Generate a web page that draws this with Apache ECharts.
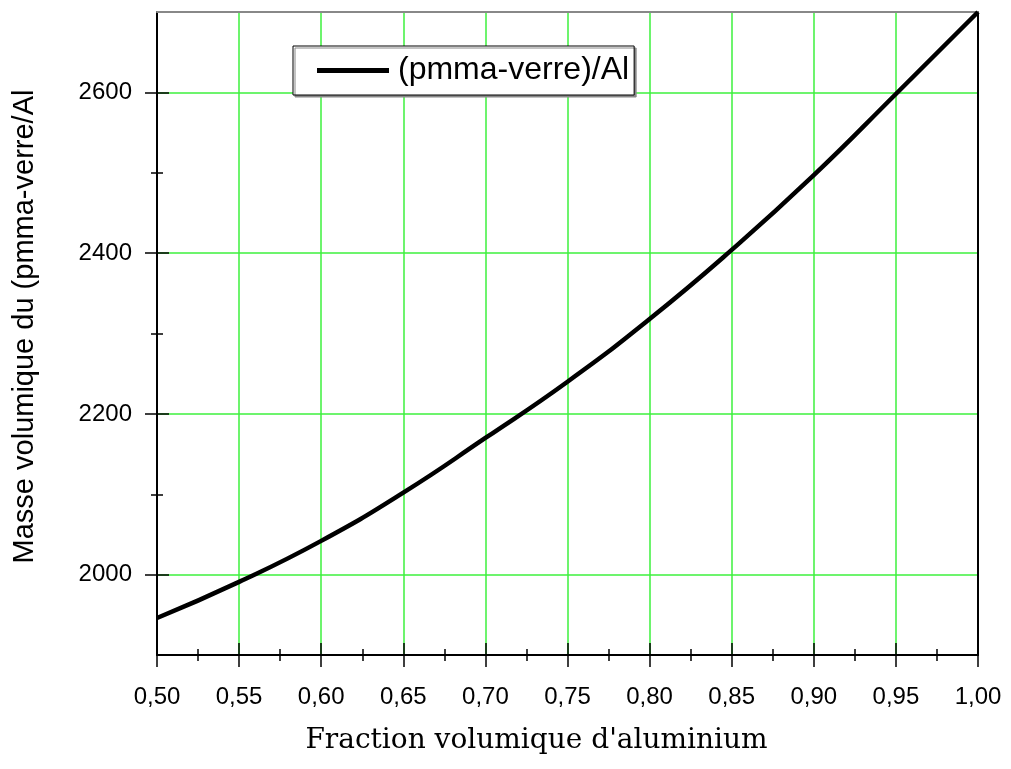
<!DOCTYPE html>
<html>
<head>
<meta charset="utf-8">
<script src="https://cdn.jsdelivr.net/npm/echarts@6/dist/echarts.min.js"></script>
<style>html,body{margin:0;padding:0;background:#fff}#c{width:1011px;height:769px}</style>
</head>
<body>
<div id="c"></div>
<script>
const fractions = [0.50, 0.55, 0.60, 0.65, 0.70, 0.75, 0.80, 0.85, 0.90, 0.95, 1.00];
const densities = [1946, 1991, 2042, 2102, 2170, 2240, 2318, 2404, 2497, 2598, 2700];
const seriesName = '(pmma-verre)/Al';
const yMajorTicks = [2000, 2200, 2400, 2600];
const yMinorTicks = [2100, 2300, 2500];
const xTitle = "Fraction volumique d'aluminium";
const yTitle = 'Masse volumique du (pmma-verre/Al';

const FONT = 'Liberation Sans, Arial, sans-serif';
const GREEN = '#3cf03c';
const X_MIN = 0.5, X_MAX = 1.0, Y_MIN = 1900, Y_MAX = 2700;

const chart = echarts.init(document.getElementById('c'));

function xAxisDef(opts) {
  return {
    type: 'value', min: X_MIN, max: X_MAX, interval: 0.05, gridIndex: 0,
    position: opts.position,
    axisLine: {show: !!opts.line, onZero: false, lineStyle: {color: opts.line || '#000', width: 2}},
    axisTick: {show: !!opts.tick, inside: !!opts.inside, length: 12, lineStyle: {color: '#000', width: 1.5}},
    minorTick: {show: !!opts.tick, splitNumber: 2, length: 6, lineStyle: {color: '#000', width: 1.5}},
    axisLabel: opts.label ? {show: true, fontFamily: FONT, fontSize: 24, color: '#000', margin: 30,
      formatter: v => v.toFixed(2).replace('.', ',')} : {show: false},
    splitLine: {show: !!opts.split, lineStyle: {color: GREEN, width: 1.5}},
    minorSplitLine: {show: false}
  };
}

function yAxisDef(opts) {
  return {
    type: 'value', min: Y_MIN, max: Y_MAX, gridIndex: 0,
    position: opts.position,
    axisLine: {show: !!opts.line, onZero: false, lineStyle: {color: '#000', width: 2}},
    axisTick: {show: !!opts.ticks, inside: !!opts.inside, length: opts.len || 12,
      customValues: opts.ticks || yMajorTicks, lineStyle: {color: '#000', width: 1.5}},
    axisLabel: opts.label ? {show: true, fontFamily: FONT, fontSize: 24, color: '#000', margin: 25,
      customValues: yMajorTicks, formatter: v => String(v)} : {show: false},
    splitLine: {show: !!opts.split, lineStyle: {color: GREEN, width: 1.5}},
    minorSplitLine: {show: false}
  };
}

const xMain = xAxisDef({position: 'bottom', line: '#000', tick: true, label: true, split: true});
xMain.name = xTitle;
xMain.nameLocation = 'middle';
xMain.nameGap = 72;
xMain.nameTextStyle = {fontFamily: 'DejaVu Serif, serif', fontSize: 28, color: '#000', padding: [0, 62, 0, 0]};

const yMain = yAxisDef({position: 'left', line: true, ticks: yMajorTicks, label: true, split: true});
yMain.name = yTitle;
yMain.nameLocation = 'middle';
yMain.nameGap = 118;
yMain.nameRotate = 90;
yMain.nameTextStyle = {fontFamily: FONT, fontSize: 29, color: '#000', padding: [0, 0, 0, 14]};

chart.setOption({
  animation: false,
  backgroundColor: '#fff',
  grid: {left: 157, right: 33, top: 12, bottom: 114, containLabel: false},
  legend: {
    data: [seriesName],
    left: 293, top: 46,
    icon: 'rect', itemWidth: 72, itemHeight: 5,
    padding: [8, 5, 8, 24],
    backgroundColor: '#fff',
    borderColor: '#000', borderWidth: 1,
    shadowColor: '#888', shadowOffsetX: 2, shadowOffsetY: 2, shadowBlur: 0,
    textStyle: {fontFamily: FONT, fontSize: 32, color: '#000', padding: [0, 0, 0, 4], lineHeight: 33}
  },
  xAxis: [
    xMain,
    xAxisDef({position: 'bottom', tick: true, inside: true}),
    xAxisDef({position: 'top', line: '#888'})
  ],
  yAxis: [
    yMain,
    yAxisDef({position: 'left', ticks: yMajorTicks, inside: true}),
    yAxisDef({position: 'left', ticks: yMinorTicks, len: 6}),
    yAxisDef({position: 'left', ticks: yMinorTicks, len: 6, inside: true}),
    yAxisDef({position: 'right', line: true})
  ],
  series: [{
    name: seriesName,
    type: 'line',
    xAxisIndex: 0, yAxisIndex: 0,
    data: fractions.map((f, i) => [f, densities[i]]),
    smooth: true,
    showSymbol: false,
    itemStyle: {color: '#000'},
    lineStyle: {color: '#000', width: 4.5},
    z: 5
  }]
});
</script>
</body>
</html>
